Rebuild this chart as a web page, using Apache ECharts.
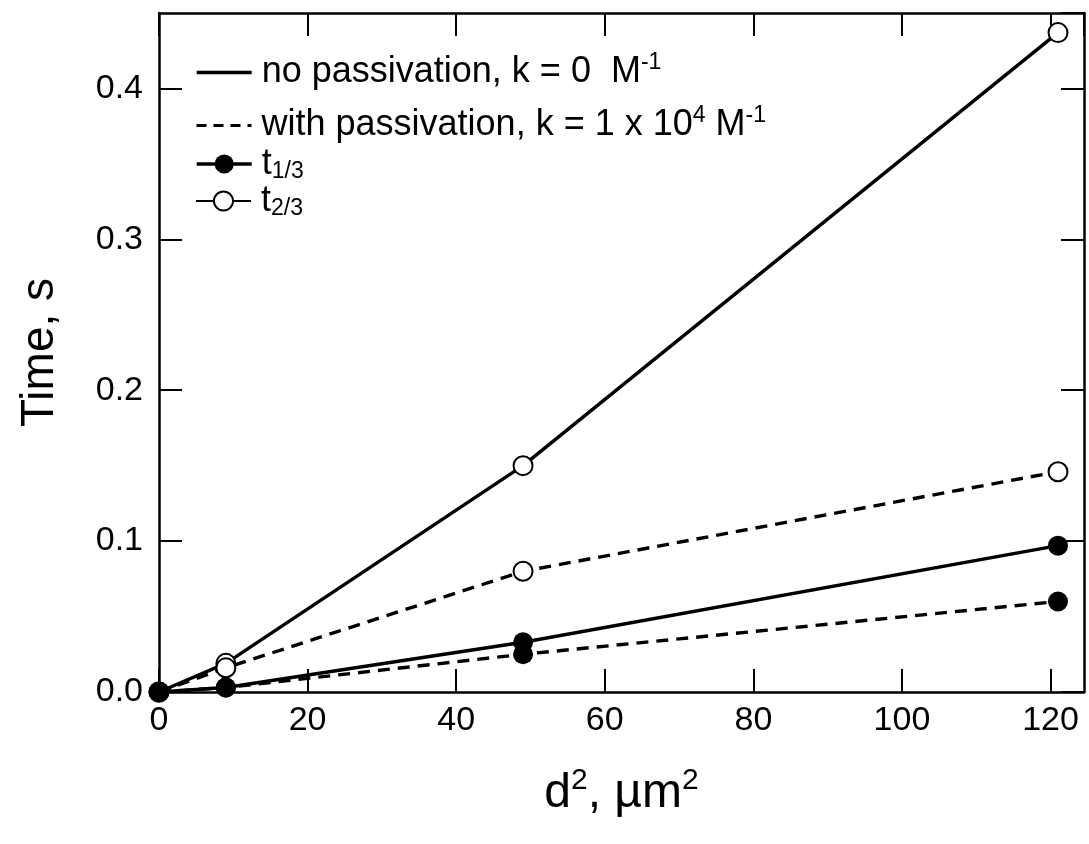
<!DOCTYPE html>
<html>
<head>
<meta charset="utf-8">
<script src="https://cdn.jsdelivr.net/npm/echarts@6/dist/echarts.min.js"></script>
<style>
  html, body { margin: 0; padding: 0; background: #fff; }
  #chart { width: 1089px; height: 844px; }
</style>
</head>
<body>
<div id="chart"></div>
<script>
// Squared diameter (µm²) of each particle size
const d2 = [0, 9, 49, 121];
// Time to reach 1/3 and 2/3 conversion without passivation (k = 0)
const t13NoPass = [0, 0.003, 0.033, 0.097];
const t23NoPass = [0, 0.019, 0.150, 0.437];
// Same times with passivation (k = 1e4 M^-1)
const t13Pass = [0, 0.003, 0.025, 0.060];
const t23Pass = [0, 0.016, 0.080, 0.146];

const xTicks = [0, 20, 40, 60, 80, 100, 120];
const yTicks = [0.0, 0.1, 0.2, 0.3, 0.4];

const legendLabels = {
  noPass: '{m|no passivation, k = 0  M}{sup|-1}',
  withPass: '{m|with passivation, k = 1 x 10}{sup|4}{m| M}{sup|-1}',
  t13: '{m|t}{sub|1/3}',
  t23: '{m|t}{sub|2/3}'
};

const FONT = '"Liberation Sans", Arial, Helvetica, sans-serif';
const dashed = [12, 8];

const pairs = (ys) => d2.map((x, i) => [x, ys[i]]);

const rich = {
  m: { fontSize: 36, fontFamily: FONT, color: '#000', lineHeight: 42 },
  sup: { fontSize: 23, fontFamily: FONT, color: '#000', padding: [0, 0, 20, 0] },
  sub: { fontSize: 23, fontFamily: FONT, color: '#000', padding: [16, 0, 0, 0] }
};

function dataSeries(name, ys, filled, lineType) {
  return {
    type: 'line',
    name: name,
    data: pairs(ys),
    symbol: filled ? 'circle' : 'emptyCircle',
    symbolSize: filled ? 20 : 19,
    showAllSymbol: true,
    lineStyle: { color: '#000', width: 3.4, type: lineType },
    itemStyle: { color: '#000', borderColor: '#000', borderWidth: filled ? 0 : 2.2 },
    z: filled ? 4 : 3,
    animation: false,
    silent: true
  };
}

// Series without data, only used to give each legend row its own icon
function legendSeries(name, symbol, lineType, width) {
  return {
    type: 'line',
    name: name,
    data: [],
    symbol: symbol,
    lineStyle: { color: '#000', width: width, type: lineType },
    itemStyle: {
      color: '#000', borderColor: '#000',
      borderWidth: symbol === 'emptyCircle' ? 2.2 : 0,
      opacity: symbol === 'none' ? 0 : 1
    }
  };
}

function legendAt(name, top, hideSymbol, lineWidth, lineType) {
  const l = {
    data: [name],
    left: 190,
    top: top,
    orient: 'vertical',
    itemWidth: 55,
    itemHeight: 24,
    itemGap: 0,
    selectedMode: false,
    formatter: (n) => legendLabels[n],
    textStyle: { rich: rich, padding: [0, 0, 0, 5] },
    lineStyle: { width: lineWidth, type: lineType, color: '#000' }
  };
  if (hideSymbol) l.itemStyle = { opacity: 0 };
  return l;
}

const axisLine = { show: true, onZero: false, lineStyle: { color: '#000', width: 2.5 } };
const tick = { show: true, inside: true, length: 23, lineStyle: { color: '#000', width: 2 } };

const option = {
  backgroundColor: '#fff',
  animation: false,
  grid: { left: 159, right: 5, top: 13, bottom: 152, containLabel: false },
  legend: [
    legendAt('noPass', 46, true, 3.4, 'solid'),
    legendAt('withPass', 99, true, 3, [10, 7]),
    legendAt('t13', 141, false, 3.4, 'solid'),
    legendAt('t23', 178, false, 2, 'solid')
  ],
  xAxis: [
    {
      type: 'value', position: 'bottom', min: 0, max: 124.5, interval: 20,
      axisLine: axisLine, axisTick: tick, splitLine: { show: false },
      axisLabel: {
        show: true, margin: 12, fontSize: 34, fontFamily: FONT, color: '#000',
        showMaxLabel: false,
        formatter: (v) => (xTicks.indexOf(v) >= 0 ? String(v) : '')
      },
      name: '{m|d}{sup|2}{m|, µm}{sup|2}',
      nameLocation: 'middle', nameGap: 74,
      nameTextStyle: {
        rich: {
          m: { fontSize: 48, fontFamily: FONT, color: '#000' },
          sup: { fontSize: 30, fontFamily: FONT, color: '#000', padding: [0, 0, 26, 0] }
        }
      }
    },
    {
      type: 'value', position: 'top', min: 0, max: 124.5, interval: 20,
      axisLine: axisLine, axisTick: tick, splitLine: { show: false },
      axisLabel: { show: false }
    }
  ],
  yAxis: [
    {
      type: 'value', position: 'left', min: 0, max: 0.45, interval: 0.1,
      axisLine: axisLine, axisTick: tick, splitLine: { show: false },
      axisLabel: {
        show: true, margin: 16, fontSize: 34, fontFamily: FONT, color: '#000',
        showMaxLabel: false,
        formatter: (v) => {
          const hit = yTicks.find((t) => Math.abs(t - v) < 1e-9);
          return hit === undefined ? '' : hit.toFixed(1);
        }
      },
      name: 'Time, s',
      nameLocation: 'middle', nameGap: 96,
      nameTextStyle: { fontSize: 46, fontFamily: FONT, color: '#000' }
    },
    {
      type: 'value', position: 'right', min: 0, max: 0.45, interval: 0.1,
      axisLine: axisLine, axisTick: tick, splitLine: { show: false },
      axisLabel: { show: false }
    }
  ],
  series: [
    dataSeries('t13NoPass', t13NoPass, true, 'solid'),
    dataSeries('t23NoPass', t23NoPass, false, 'solid'),
    dataSeries('t13Pass', t13Pass, true, dashed),
    dataSeries('t23Pass', t23Pass, false, dashed),
    legendSeries('noPass', 'none', 'solid', 3.4),
    legendSeries('withPass', 'none', [10, 7], 3),
    legendSeries('t13', 'circle', 'solid', 3.4),
    legendSeries('t23', 'emptyCircle', 'solid', 2)
  ]
};

const chart = echarts.init(document.getElementById('chart'), null, { renderer: 'canvas' });
chart.setOption(option);
</script>
</body>
</html>
